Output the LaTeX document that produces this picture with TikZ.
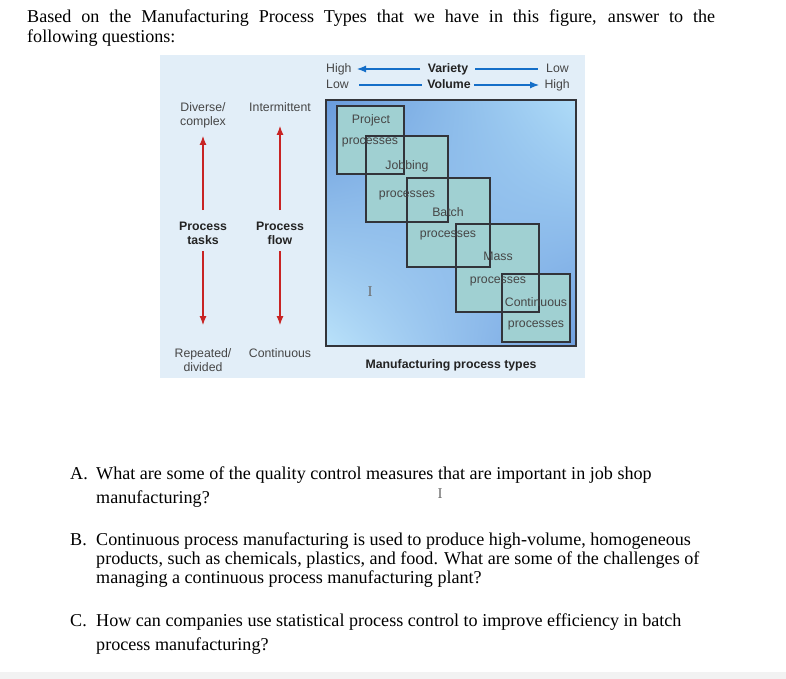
\documentclass[tikz,border=0pt]{standalone}
\usepackage{fontspec}
\setmainfont{Liberation Serif}
\setsansfont{Liberation Sans}
\usetikzlibrary{arrows.meta,shadings}
\definecolor{panelbg}{RGB}{226,238,248}
\definecolor{labelgray}{RGB}{70,70,70}
\definecolor{darklbl}{RGB}{35,35,35}
\definecolor{boxfill}{RGB}{160,208,210}
\definecolor{boxline}{RGB}{50,52,58}
\definecolor{arrowblue}{RGB}{20,110,200}
\definecolor{arrowred}{RGB}{200,35,35}
\definecolor{gUL}{RGB}{105,155,220}
\definecolor{gUR}{RGB}{175,220,248}
\definecolor{gLL}{RGB}{186,226,250}
\definecolor{gLR}{RGB}{112,160,224}
\definecolor{stripgray}{RGB}{242,242,242}
\definecolor{cursorgray}{RGB}{110,110,110}
\tikzset{
  lbl/.style={font=\sffamily\fontsize{12.3}{14}\selectfont, text=labelgray, inner sep=0pt, anchor=base},
  lblb/.style={lbl, font=\sffamily\bfseries\fontsize{12.3}{14}\selectfont, text=darklbl},
  ptype/.style={draw=boxline, line width=1.2pt},
  qtext/.style={font=\fontsize{18.1}{19.5}\selectfont, inner sep=0pt, anchor=base west, text=black},
  bluearrow/.style={draw=arrowblue, line width=1.1pt},
  bluetip/.style={-{Latex[length=9pt,width=7pt]}},
  redarrow/.style={draw=arrowred, line width=1.1pt, -{Latex[length=9pt,width=7pt]}},
  cursor/.style={font=\fontsize{15}{15}\selectfont, text=cursorgray, inner sep=0pt, anchor=base}
}
\begin{document}
\begin{tikzpicture}[x=1pt,y=-1pt]
\useasboundingbox (0,0) rectangle (786,679);
\fill[white] (0,0) rectangle (786,679);
\fill[stripgray] (0,672) rectangle (786,679);

% title
\node[qtext, text width=688pt, align=justify, anchor=base west] (title) at (27,23)
  {Based on the Manufacturing Process Types that we have in this figure, answer to the\linebreak following questions:};

% panel
\fill[panelbg] (160,55) rectangle (585,378);

% header
\node[lbl, anchor=base west] (hi1) at (326,73) {High};
\node[lblb] (variety) at (448,73) {Variety};
\node[lbl, anchor=base east] (lo1) at (569,73) {Low};
\node[lbl, anchor=base west] (lo2) at (326,89) {Low};
\node[lblb] (volume) at (449,89) {Volume};
\node[lbl, anchor=base east] (hi2) at (570,89) {High};
\coordinate (va) at (420,69); \coordinate (vb) at (357,69);
\coordinate (vc) at (475,69); \coordinate (vd) at (538,69);
\coordinate (wa) at (359,85); \coordinate (wb) at (422,85);
\coordinate (wc) at (474,85); \coordinate (wd) at (539,85);
\draw[bluearrow, bluetip] (va) -- (vb);
\draw[bluearrow] (vc) -- (vd);
\draw[bluearrow] (wa) -- (wb);
\draw[bluearrow, bluetip] (wc) -- (wd);

% left labels
\node[lbl] (div1) at (203,112) {Diverse/};
\node[lbl] (div2) at (203,126) {complex};
\node[lbl] (inter) at (280,112) {Intermittent};
\node[lblb] (pt1) at (203,230) {Process};
\node[lblb] (pt2) at (203,244) {tasks};
\node[lblb] (pf1) at (280,230) {Process};
\node[lblb] (pf2) at (280,244) {flow};
\node[lbl] (rep1) at (203,357) {Repeated/};
\node[lbl] (rep2) at (203,371) {divided};
\node[lbl] (cont) at (280,357) {Continuous};
\coordinate (a1s) at (203,210); \coordinate (a1e) at (203,136);
\coordinate (a2s) at (280,210); \coordinate (a2e) at (280,126);
\coordinate (a3s) at (203,251); \coordinate (a3e) at (203,325);
\coordinate (a4s) at (280,251); \coordinate (a4e) at (280,325);
\draw[redarrow] (a1s) -- (a1e);
\draw[redarrow] (a2s) -- (a2e);
\draw[redarrow] (a3s) -- (a3e);
\draw[redarrow] (a4s) -- (a4e);

% main box
\shade[upper left=gUL, upper right=gUR, lower left=gLL, lower right=gLR] (326,100) rectangle (576,346);
\draw[boxline, line width=1.2pt] (326,100) rectangle (576,346);

% process boxes: fills then outlines
\fill[boxfill] (337,106) rectangle (404,174);
\fill[boxfill] (366,136) rectangle (448,222);
\fill[boxfill] (407,178) rectangle (490,267);
\fill[boxfill] (456,224) rectangle (539,312);
\fill[boxfill] (502,274) rectangle (570,342);
\draw[ptype] (337,106) rectangle (404,174);
\draw[ptype] (366,136) rectangle (448,222);
\draw[ptype] (407,178) rectangle (490,267);
\draw[ptype] (456,224) rectangle (539,312);
\draw[ptype] (502,274) rectangle (570,342);

\node[lbl] (proj1) at (371,124) {Project};
\node[lbl] (proj2) at (370,145) {processes};
\node[lbl] (job1) at (407,170) {Jobbing};
\node[lbl] (job2) at (407,197) {processes};
\node[lbl] (bat1) at (448,216) {Batch};
\node[lbl] (bat2) at (448,237) {processes};
\node[lbl] (mas1) at (498,260) {Mass};
\node[lbl] (mas2) at (498,283) {processes};
\node[lbl] (con1) at (536,306) {Continuous};
\node[lbl] (con2) at (536,327) {processes};
\node[lblb] (mpt) at (451,368) {Manufacturing process types};
\node[cursor] (cur1) at (370,296) {I};

% questions
\node[qtext] (qa) at (70,479) {A.};
\node[qtext] (qa1) at (96,479) {What are some of the quality control measures that are important in job shop};
\node[qtext] (qa2) at (96,503) {manufacturing?};
\node[cursor] (cur2) at (440,498) {I};
\node[qtext] (qb) at (70,545) {B.};
\node[qtext] (qb1) at (96,545) {Continuous process manufacturing is used to produce high-volume, homogeneous};
\node[qtext] (qb2) at (96,564) {products, such as chemicals, plastics, and food. What are some of the challenges of};
\node[qtext] (qb3) at (96,583) {managing a continuous process manufacturing plant?};
\node[qtext] (qc) at (70,626) {C.};
\node[qtext] (qc1) at (96,626) {How can companies use statistical process control to improve efficiency in batch};
\node[qtext] (qc2) at (96,650) {process manufacturing?};
\end{tikzpicture}
\end{document}
